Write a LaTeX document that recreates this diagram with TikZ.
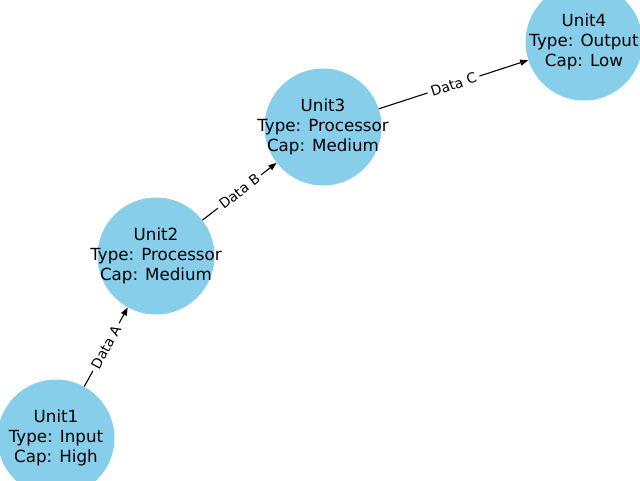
\documentclass[tikz,border=0pt]{standalone}
\usepackage{fontspec}
\setmainfont{DejaVu Sans}
\usetikzlibrary{arrows.meta}

\begin{document}
\begin{tikzpicture}[x=1pt, y=-1pt,
    unit/.style={circle, fill=nodeblue, minimum size=117pt, inner sep=0pt},
    unittext/.style={align=center, inner sep=0pt, font=\fontsize{16.7}{20}\selectfont},
    flow/.style={-{Triangle[length=8pt, width=6pt]}, line width=1.1pt, black},
    flowlabel/.style={sloped, midway, fill=white, inner sep=3.5pt,
        font=\fontsize{13.9}{16}\selectfont}]
    % Colours
    \definecolor{nodeblue}{RGB}{135,206,235}

    % Canvas
    \useasboundingbox (0,0) rectangle (640,480);
    \clip (0,0) rectangle (640,480);

    % Units
    \node[unit, label={[unittext]center:Unit1\\Type: Input\\Cap: High}] (unit1) at (56,438) {};
    \node[unit, label={[unittext]center:Unit2\\Type: Processor\\Cap: Medium}] (unit2) at (156,256) {};
    \node[unit, label={[unittext]center:Unit3\\Type: Processor\\Cap: Medium}] (unit3) at (323,127) {};
    \node[unit, label={[unittext]center:Unit4\\Type: Output\\Cap: Low}] (unit4) at (584,42) {};

    % Data flows
    \foreach \from/\to/\lbl in {unit1/unit2/A, unit2/unit3/B, unit3/unit4/C} {
        \draw[flow] (\from) -- node[flowlabel] {Data \lbl} (\to);
    }
\end{tikzpicture}
\end{document}
